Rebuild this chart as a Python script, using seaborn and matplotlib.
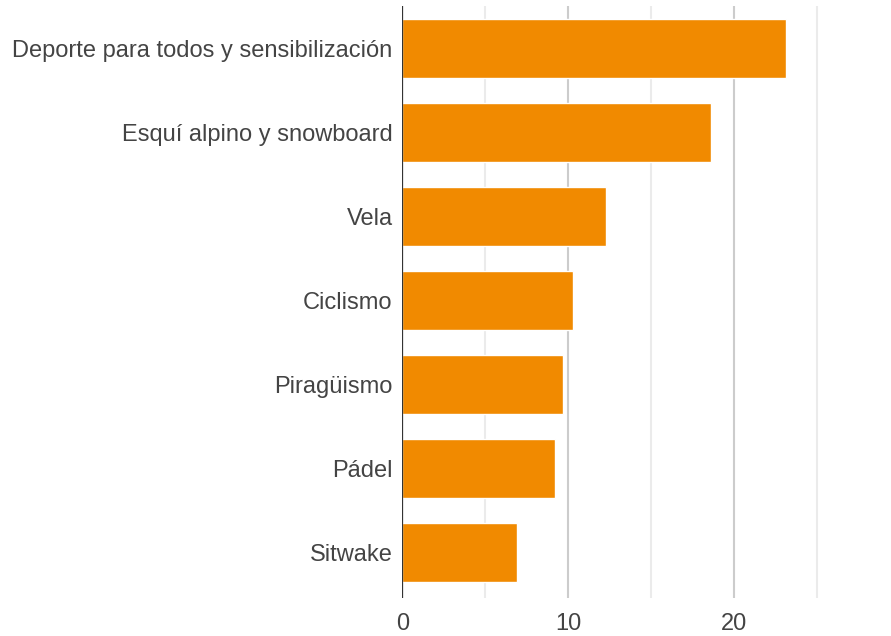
import matplotlib
matplotlib.use("Agg")
import matplotlib.pyplot as plt
from matplotlib.ticker import MultipleLocator
import seaborn as sns
import pandas as pd

categories = ["Deporte para todos y sensibilización", "Esquí alpino y snowboard", "Vela",
              "Ciclismo", "Piragüismo", "Pádel", "Sitwake"]
values = [23.1, 18.6, 12.25, 10.3, 9.7, 9.2, 6.93]
major_ticks = [0, 10, 20]

df = pd.DataFrame({"cat": categories, "val": values})

sns.set_theme(style="white")
plt.rcParams['font.family'] = ['Liberation Sans', 'DejaVu Sans']

W, H = 891, 636
fig = plt.figure(figsize=(W / 100, H / 100), dpi=100)
x0, x1, y0, y1 = 402.3, 891, 6, 598
ax = fig.add_axes([x0 / W, 1 - y1 / H, (x1 - x0) / W, (y1 - y0) / H])

sns.barplot(data=df, x="val", y="cat", orient="h", color="#F18A00", saturation=1,
            width=0.7, ax=ax, zorder=3)

ax.set_xlim(0, (x1 - x0) / 16.6)
ax.set_ylim(len(categories) - 1 + 0.54, -0.51)
ax.set_xticks(major_ticks)
ax.xaxis.set_minor_locator(MultipleLocator(5))
ax.grid(which="major", axis="x", color="#cccccc", linewidth=1.5, zorder=0)
ax.grid(which="minor", axis="x", color="#ebebeb", linewidth=1.5, zorder=0)
ax.set_axisbelow(True)
ax.axvline(0, color="#333333", linewidth=1.6, zorder=4)
for s in ax.spines.values():
    s.set_visible(False)
ax.tick_params(axis="both", which="both", length=0)
ax.tick_params(axis="y", pad=7, labelsize=17, labelcolor="#444444")
ax.tick_params(axis="x", pad=11, labelsize=17, labelcolor="#444444")
ax.set_xlabel("")
ax.set_ylabel("")

fig.savefig("out.png", dpi=100)
